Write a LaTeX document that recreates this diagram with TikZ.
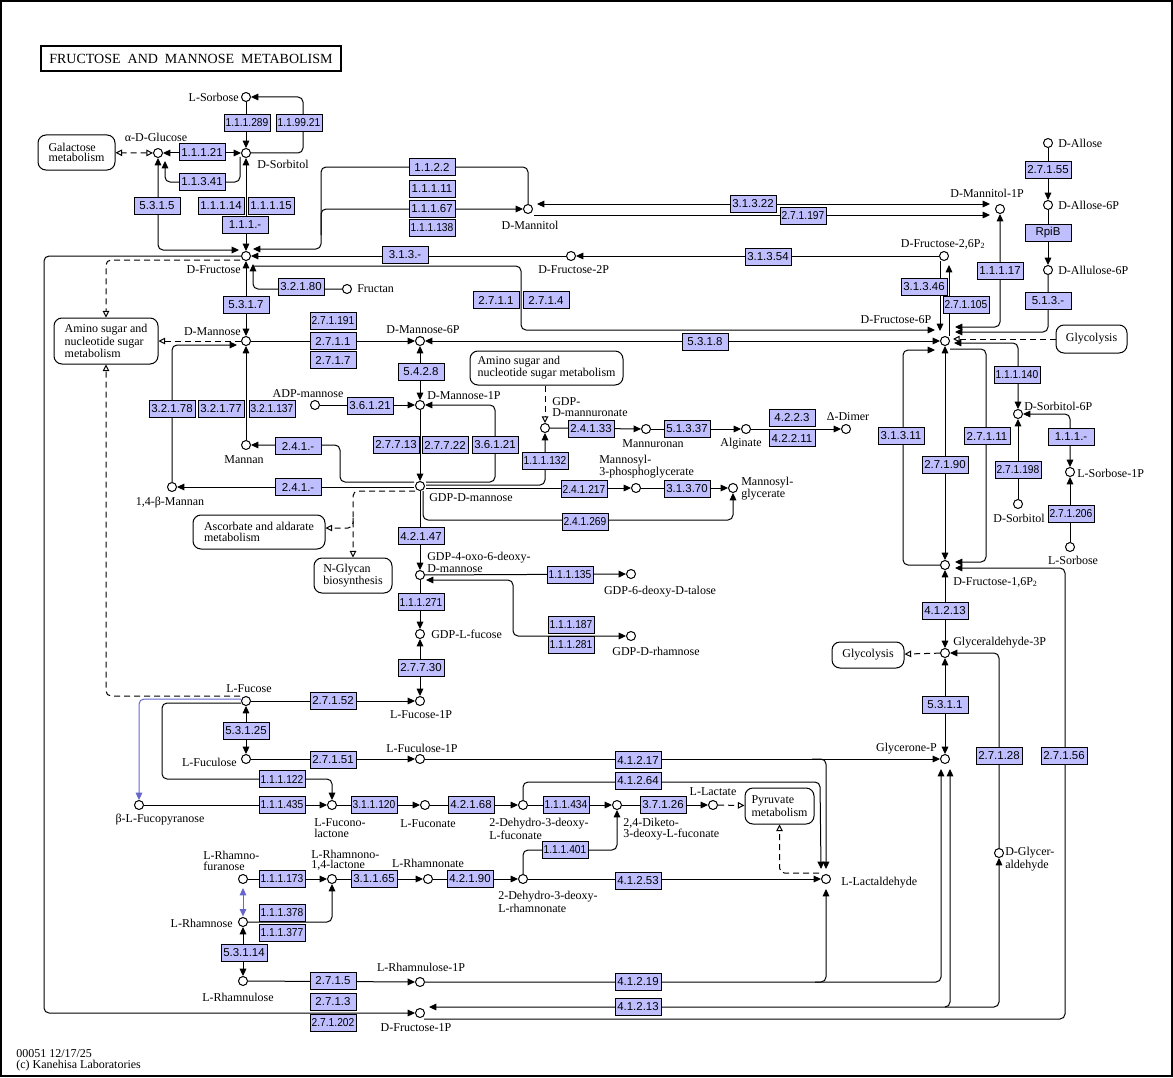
\documentclass[tikz,border=0pt]{standalone}
\usepackage{graphicx}
\usepackage{fontspec}
\setmainfont{Liberation Serif}
\newfontfamily\ecfam{Liberation Sans}
\usetikzlibrary{arrows.meta,calc}
\pgfdeclarelayer{bg}
\pgfsetlayers{bg,main}
\definecolor{ecblue}{RGB}{191,191,255}
\definecolor{kblue}{RGB}{102,102,204}
\newsavebox\ecsbox
\newcommand\ecfit[1]{\sbox\ecsbox{#1}\ifdim\wd\ecsbox>32pt\resizebox{32pt}{\height}{\usebox\ecsbox}\else\usebox\ecsbox\fi}
\newcommand\ecn[4]{\node[ec] (#1) at (#2,#3) {\ecfit{#4}};}
\newcommand\cpn[3]{\node[cpd] (#1) at (#2,#3) {};}
\newcommand\lbfont{\fontsize{9}{7.8}\selectfont}
\tikzset{
  cpd/.style={circle, draw, fill=white, inner sep=0pt, minimum size=6.75pt, line width=0.75pt},
  ec/.style={rectangle, draw, fill=ecblue, inner sep=0pt, minimum width=34.5pt, minimum height=12.75pt, line width=0.75pt, font=\ecfam\fontsize{8.6}{9}\selectfont},
  mapbox/.style={rectangle, rounded corners=6pt, draw, fill=white, line width=0.75pt, align=left, font=\lbfont, inner sep=0pt},
  lab/.style={inner sep=0pt, align=left, font=\lbfont},
  ln/.style={draw, line width=0.75pt, rounded corners=3.75pt},
  ar/.style={ln, -{Triangle[length=5.5pt,width=5pt]}},
  bi/.style={ln, {Triangle[length=5.5pt,width=5pt]}-{Triangle[length=5.5pt,width=5pt]}},
  dl/.style={ln, dash pattern=on 4.5pt off 3pt, -{Triangle[open,length=5pt,width=5pt]}},
  dlb/.style={ln, dash pattern=on 4.5pt off 3pt, {Triangle[open,length=5pt,width=5pt]}-{Triangle[open,length=5pt,width=5pt]}},
  bar/.style={ln, kblue, -{Triangle[length=5.5pt,width=5pt]}},
  bbi/.style={ln, kblue, {Triangle[length=5.5pt,width=5pt]}-{Triangle[length=5.5pt,width=5pt]}, shorten <=3pt, shorten >=0.5pt},
}
\begin{document}
\begin{tikzpicture}[x=0.75pt,y=-0.75pt]
\useasboundingbox (0,0) rectangle (1173,1077);
\draw[line width=1.5pt] (0.75,0.75) rectangle (1172.25,1076.25);
\node[draw, line width=1.5pt, minimum width=225pt, minimum height=18.75pt, inner sep=0pt, font=\fontsize{10.5}{12}\selectfont] (title) at (191,58.5) {FRUCTOSE~~AND~~MANNOSE~~METABOLISM};

% map boxes
\node[mapbox, minimum width=57.75pt, minimum height=26.25pt] (galac) at (76.5,152.5) {Galactose\\metabolism};
\node[mapbox, minimum width=78pt, minimum height=34.5pt] (amino1) at (106,341) {Amino sugar and\\nucleotide sugar\\metabolism};
\node[mapbox, minimum width=114.75pt, minimum height=25.5pt] (amino2) at (546.5,368) {Amino sugar and\\nucleotide sugar metabolism};
\node[mapbox, minimum width=99pt, minimum height=25.5pt] (ascorbate) at (259,532) {Ascorbate and aldarate\\metabolism};
\node[mapbox, minimum width=58.5pt, minimum height=26.25pt] (nglycan) at (353,575.5) {N-Glycan\\biosynthesis};
\node[mapbox, minimum width=53.25pt, minimum height=21pt] (glyc1) at (1091.5,339) {Glycolysis};
\node[mapbox, minimum width=54pt, minimum height=19.5pt] (glyc2) at (868,655) {Glycolysis};
\node[mapbox, minimum width=51.75pt, minimum height=27pt] (pyruvate) at (779.5,806) {Pyruvate\\metabolism};

% compounds
\cpn{lsorb}{246}{97}
\cpn{glc}{158}{153}
\cpn{sorb}{246}{153}
\cpn{fru}{246}{256}
\cpn{mannitol}{528}{209}
\cpn{mannitol1p}{1000}{209}
\cpn{fru2p}{571}{256}
\cpn{fru26p}{944}{256}
\cpn{allose}{1048}{143}
\cpn{allose6p}{1048}{205}
\cpn{allulose6p}{1048}{270}
\cpn{f6p}{945}{341}
\cpn{fructan}{347}{289}
\cpn{man}{246}{341}
\cpn{man6p}{420}{341}
\cpn{adpman}{315}{405}
\cpn{man1p}{420}{405}
\cpn{mannan}{246}{445}
\cpn{bmannan}{172}{487}
\cpn{gdpman}{420}{486}
\cpn{gdpmanur}{545}{428}
\cpn{mannuronan}{646}{429}
\cpn{alginate}{746}{429}
\cpn{dimer}{846}{429}
\cpn{m3pg}{636}{488}
\cpn{mglyc}{733}{488}
\cpn{gdp4oxo}{420}{575}
\cpn{gdptalose}{631}{574}
\cpn{gdprham}{631}{636}
\cpn{gdpfuc}{420}{634}
\cpn{fuc1p}{420}{701}
\cpn{fuc}{246}{701}
\cpn{fucul}{246}{759}
\cpn{fucul1p}{420}{759}
\cpn{bfucp}{139}{805}
\cpn{fuclac}{332}{805}
\cpn{fuconate}{425}{805}
\cpn{dhfuconate}{523}{805}
\cpn{diketo}{617}{805}
\cpn{llactate}{713}{805}
\cpn{lactald}{826}{879}
\cpn{rhamf}{243}{879}
\cpn{rhamlac}{332}{879}
\cpn{rhamnonate}{428}{879}
\cpn{dhrhamnonate}{523}{879}
\cpn{rham}{243}{922}
\cpn{rhamnul}{243}{981}
\cpn{rhamnul1p}{420}{982}
\cpn{f1p}{420}{1013}
\cpn{sorb6p}{1018}{414}
\cpn{lsorb1p}{1070}{472}
\cpn{sorb2}{1018}{504}
\cpn{lsorb2}{1070}{547}
\cpn{f16p}{945}{565}
\cpn{g3p}{945}{653}
\cpn{gnp}{945}{759}
\cpn{glyald}{999}{853}

% enzymes
\ecn{e1}{247}{123}{1.1.1.289}
\ecn{e2}{299}{123}{1.1.99.21}
\ecn{e3}{202}{152}{1.1.1.21}
\ecn{e4}{202}{182}{1.1.3.41}
\ecn{e5}{157}{206}{5.3.1.5}
\ecn{e6}{221}{206}{1.1.1.14}
\ecn{e7}{271}{206}{1.1.1.15}
\ecn{e8}{245}{225}{1.1.1.-}
\ecn{e9}{432}{167}{1.1.2.2}
\ecn{e10}{432}{189}{1.1.1.11}
\ecn{e11}{432}{209}{1.1.1.67}
\ecn{e12}{432}{228}{1.1.1.138}
\ecn{e13}{753}{204}{3.1.3.22}
\ecn{e14}{803}{216}{2.7.1.197}
\ecn{e15}{405}{255}{3.1.3.-}
\ecn{e16}{768}{257}{3.1.3.54}
\ecn{e17}{1048}{170}{2.7.1.55}
\ecn{e18}{1048}{233}{RpiB}
\ecn{e19}{1048}{301}{5.1.3.-}
\ecn{e20}{1000}{271}{1.1.1.17}
\ecn{e21}{924}{287}{3.1.3.46}
\ecn{e22}{966}{305}{2.7.1.105}
\ecn{e23}{301}{287}{3.2.1.80}
\ecn{e24}{246}{305}{5.3.1.7}
\ecn{e25}{333}{321}{2.7.1.191}
\ecn{e26}{333}{341}{2.7.1.1}
\ecn{e27}{333}{360}{2.7.1.7}
\ecn{e28}{496}{300}{2.7.1.1}
\ecn{e29}{546}{300}{2.7.1.4}
\ecn{e30}{705}{342}{5.3.1.8}
\ecn{e31}{421}{372}{5.4.2.8}
\ecn{e32}{370}{406}{3.6.1.21}
\ecn{e33}{172}{409}{3.2.1.78}
\ecn{e34}{221}{409}{3.2.1.77}
\ecn{e35}{272}{409}{3.2.1.137}
\ecn{e36}{396}{445}{2.7.7.13}
\ecn{e37}{445}{445}{2.7.7.22}
\ecn{e38}{495}{445}{3.6.1.21}
\ecn{e39}{298}{446}{2.4.1.-}
\ecn{e40}{298}{487}{2.4.1.-}
\ecn{e41}{545}{461}{1.1.1.132}
\ecn{e42}{591}{429}{2.4.1.33}
\ecn{e43}{687}{429}{5.1.3.37}
\ecn{e44}{792}{418}{4.2.2.3}
\ecn{e45}{792}{438}{4.2.2.11}
\ecn{e46}{584}{489}{2.4.1.217}
\ecn{e47}{687}{489}{3.1.3.70}
\ecn{e48}{585}{522}{2.4.1.269}
\ecn{e49}{421}{536}{4.2.1.47}
\ecn{e50}{570}{575}{1.1.1.135}
\ecn{e51}{571}{625}{1.1.1.187}
\ecn{e52}{571}{645}{1.1.1.281}
\ecn{e53}{421}{602}{1.1.1.271}
\ecn{e54}{421}{668}{2.7.7.30}
\ecn{e55}{333}{701}{2.7.1.52}
\ecn{e56}{246}{731}{5.3.1.25}
\ecn{e57}{333}{760}{2.7.1.51}
\ecn{e58}{282}{779}{1.1.1.122}
\ecn{e59}{282}{805}{1.1.1.435}
\ecn{e60}{374}{805}{3.1.1.120}
\ecn{e61}{471}{805}{4.2.1.68}
\ecn{e62}{566}{805}{1.1.1.434}
\ecn{e63}{663}{805}{3.7.1.26}
\ecn{e64}{638}{760}{4.1.2.17}
\ecn{e65}{638}{781}{4.1.2.64}
\ecn{e66}{565}{850}{1.1.1.401}
\ecn{e67}{638}{881}{4.1.2.53}
\ecn{e68}{282}{879}{1.1.1.173}
\ecn{e69}{374}{879}{3.1.1.65}
\ecn{e70}{470}{879}{4.2.1.90}
\ecn{e71}{282}{913}{1.1.1.378}
\ecn{e72}{282}{933}{1.1.1.377}
\ecn{e73}{244}{953}{5.3.1.14}
\ecn{e74}{333}{981}{2.7.1.5}
\ecn{e75}{333}{1002}{2.7.1.3}
\ecn{e76}{333}{1023}{2.7.1.202}
\ecn{e77}{638}{982}{4.1.2.19}
\ecn{e78}{638}{1007}{4.1.2.13}
\ecn{e79}{901}{436}{3.1.3.11}
\ecn{e80}{945}{465}{2.7.1.90}
\ecn{e81}{987}{436}{2.7.1.11}
\ecn{e82}{1017}{375}{1.1.1.140}
\ecn{e83}{1071}{437}{1.1.1.-}
\ecn{e84}{1018}{470}{2.7.1.198}
\ecn{e85}{1071}{514}{2.7.1.206}
\ecn{e86}{945}{611}{4.1.2.13}
\ecn{e87}{945}{705}{5.3.1.1}
\ecn{e88}{999}{756}{2.7.1.28}
\ecn{e89}{1064}{756}{2.7.1.56}

% compound labels
\node[lab,anchor=east] (t-lsorb) at (239,97) {L-Sorbose};
\node[lab] (t-glc) at (156,137) {α-D-Glucose};
\node[lab,anchor=west] (t-sorb) at (257,164) {D-Sorbitol};
\node[lab,anchor=east] (t-fru) at (241,270) {D-Fructose};
\node[lab] (t-mannitol) at (530,225) {D-Mannitol};
\node[lab] (t-mannitol1p) at (987,193) {D-Mannitol-1P};
\node[lab,anchor=west] (t-fru2p) at (538,270) {D-Fructose-2P};
\node[lab] (t-fru26p) at (943,244) {D-Fructose-2,6P\textsubscript{2}};
\node[lab,anchor=west] (t-allose) at (1058,143) {D-Allose};
\node[lab,anchor=west] (t-allose6p) at (1058,205) {D-Allose-6P};
\node[lab,anchor=west] (t-allulose6p) at (1058,270) {D-Allulose-6P};
\node[lab] (t-f6p) at (896,320) {D-Fructose-6P};
\node[lab,anchor=west] (t-fructan) at (357,289) {Fructan};
\node[lab,anchor=east] (t-man) at (241,332) {D-Mannose};
\node[lab] (t-man6p) at (423,330) {D-Mannose-6P};
\node[lab,anchor=west] (t-man1p) at (427,396) {D-Mannose-1P};
\node[lab] (t-adpman) at (308,394) {ADP-mannose};
\node[lab] (t-mannan) at (244,460) {Mannan};
\node[lab] (t-bmannan) at (170,503) {1,4-β-Mannan};
\node[lab,anchor=west] (t-gdpman) at (429,498) {GDP-D-mannose};
\node[lab,anchor=west] (t-gdpmanur) at (552,407) {GDP-\\D-mannuronate};
\node[lab] (t-mannuronan) at (653,444) {Mannuronan};
\node[lab] (t-alginate) at (741,444) {Alginate};
\node[lab] (t-dimer) at (848,417) {Δ-Dimer};
\node[lab,anchor=west] (t-m3pg) at (599,467) {Mannosyl-\\3-phosphoglycerate};
\node[lab,anchor=west] (t-mglyc) at (741,489) {Mannosyl-\\glycerate};
\node[lab,anchor=west] (t-gdp4oxo) at (427,562) {GDP-4-oxo-6-deoxy-\\D-mannose};
\node[lab] (t-gdptalose) at (660,592) {GDP-6-deoxy-D-talose};
\node[lab] (t-gdprham) at (656,651) {GDP-D-rhamnose};
\node[lab,anchor=west] (t-gdpfuc) at (431,634) {GDP-L-fucose};
\node[lab] (t-fuc1p) at (421,715) {L-Fucose-1P};
\node[lab] (t-fuc) at (249,689) {L-Fucose};
\node[lab,anchor=east] (t-fucul) at (237,762) {L-Fuculose};
\node[lab] (t-fucul1p) at (422,748) {L-Fuculose-1P};
\node[lab] (t-bfucp) at (160,820) {β-L-Fucopyranose};
\node[lab,anchor=west] (t-fuclac) at (314,828) {L-Fucono-\\lactone};
\node[lab] (t-fuconate) at (428,824) {L-Fuconate};
\node[lab,anchor=west] (t-dhfuconate) at (489,829) {2-Dehydro-3-deoxy-\\L-fuconate};
\node[lab,anchor=west] (t-diketo) at (623,829) {2,4-Diketo-\\3-deoxy-L-fuconate};
\node[lab] (t-llactate) at (713,792) {L-Lactate};
\node[lab,anchor=west] (t-lactald) at (841,883) {L-Lactaldehyde};
\node[lab,anchor=west] (t-rhamf) at (203,861) {L-Rhamno-\\furanose};
\node[lab,anchor=west] (t-rhamlac) at (311,860) {L-Rhamnono-\\1,4-lactone};
\node[lab] (t-rhamnonate) at (428,863) {L-Rhamnonate};
\node[lab,anchor=west] (t-dhrham) at (498,902) {2-Dehydro-3-deoxy-\\L-rhamnonate};
\node[lab,anchor=east] (t-rham) at (233,923) {L-Rhamnose};
\node[lab] (t-rhamnul) at (238,997) {L-Rhamnulose};
\node[lab] (t-rhamnul1p) at (421,967) {L-Rhamnulose-1P};
\node[lab] (t-f1p) at (416,1028) {D-Fructose-1P};
\node[lab,anchor=west] (t-sorb6p) at (1024,406) {D-Sorbitol-6P};
\node[lab,anchor=west] (t-lsorb1p) at (1077,473) {L-Sorbose-1P};
\node[lab] (t-sorb2) at (1019,518) {D-Sorbitol};
\node[lab] (t-lsorb2) at (1073,560) {L-Sorbose};
\node[lab,anchor=west] (t-f16p) at (953,582) {D-Fructose-1,6P\textsubscript{2}};
\node[lab,anchor=west] (t-g3p) at (953,643) {Glyceraldehyde-3P};
\node[lab,anchor=east] (t-gnp) at (937,749) {Glycerone-P};
\node[lab,anchor=west] (t-glyald) at (1005,859) {D-Glycer-\\aldehyde};

\node[lab,anchor=west] (foot1) at (16,1054) {00051 12/17/25};
\node[lab,anchor=west] (foot2) at (16,1066) {(c) Kanehisa Laboratories};

\begin{pgfonlayer}{bg}
% top-left
\draw[ar] (lsorb) -- (sorb);
\draw[ar] (sorb) -- (303,153) -- (303,97) -- (lsorb);
\draw[bi] (glc) -- (sorb);
\draw[ar] ($(sorb)+(-6,4)$) -- (240,182) -- (165,182) -- ($(glc)+(7,8)$);
\draw[bi] (glc) -- (158,250) -- ($(fru)+(-7,-6)$);
\draw[bi] (sorb) -- (fru);
\draw[dlb] (glc) -- (galac);
\draw[ar] (mannitol) |- (321,167) -- (321,249) -- ($(fru)+(7,-7)$);
\draw[ar] (321,235) -- (321,209) -- (mannitol);
\draw[bi] ($(mannitol)+(9,-5)$) -- ($(mannitol1p)+(-10,-5)$);
\draw[ar] ($(mannitol)+(6,6)$) -- ($(mannitol1p)+(-10,6)$);
\draw[ar] (fru2p) -- (fru);
\draw[ar] (fru26p) -- (fru2p);
% top-right
\draw[ar] (allose) -- (allose6p);
\draw[ar] (allose6p) -- (allulose6p);
\draw[bi] (mannitol1p) |- ($(f6p)+(10,-14)$);
\draw[ar] (allulose6p) |- ($(f6p)+(10,-9)$);
\draw[dl] (glyc1) -- ($(f6p)+(8,-2)$);
\draw[bi] ($(f6p)+(9,2)$) -| (sorb6p);
\draw[ar] ($(fru26p)+(-4,5)$) -- ($(f6p)+(-5,-10)$);
\draw[ar] ($(f6p)+(4,-5)$) -- ($(fru26p)+(5,9)$);
\draw[ar] ($(fru)+(7,10)$) -- (521,266) -- (521,330) -- ($(f6p)+(-10,-11)$);
\draw[ar] (fructan) -- (253,289) -- ($(fru)+(7,8)$);
% mannose region
\draw[bi] (fru) -- (man);
\draw[dl] ($(fru)+(-6,4)$) -- (106,260) -- (amino1.north);
\draw[dl] (man) -- (amino1);
\draw[dl] ($(fuc)+(-6,-5)$) -| (amino1.south);
\draw[ar] (man) -- (man6p);
\draw[bi] (man6p) -- (f6p);
\draw[bi] (man6p) -- (man1p);
\draw[ar] (adpman) -- (man1p);
\draw[ar] (man1p) -- (gdpman);
\draw[ar] ($(gdpman)+(6,-4)$) -- (495,482) -- (495,405) -- (man1p);
\draw[ar] (bmannan) |- ($(man)+(-9,4)$);
\draw[ar] (mannan) -- (man);
\draw[ar] ($(gdpman)+(-6,-4)$) -- (340,482) -- (340,445) -- (mannan);
\draw[ar] ($(gdpman)+(-6,1)$) -- (bmannan);
\draw[dl] ($(gdpman)+(-5,5)$) -- (353,491) -- (nglycan.north);
\draw[dl] (353,518) -- (353,528) -- ($(ascorbate.east)+(0,-4)$);
\draw[ar] ($(gdpman)+(6,-1)$) -- (545,485) -- (gdpmanur);
\draw[dl] (gdpmanur |- amino2.south) -- (gdpmanur);
\draw[ar] (gdpmanur) -- (mannuronan);
\draw[ar] (mannuronan) -- (alginate);
\draw[ar] (alginate) -- (dimer);
\draw[ar] ($(gdpman)+(6,2)$) -- (m3pg);
\draw[ar] (m3pg) -- (mglyc);
\draw[ar] ($(gdpman)+(3,5)$) -- (423,520) -| (mglyc);
\draw[ar] (gdpman) -- (gdp4oxo);
\draw[ar] (gdp4oxo) -- (gdptalose);
\draw[bi] ($(gdp4oxo)+(6,5)$) -- (513,580) |- (gdprham);
\draw[ar] (gdp4oxo) -- (gdpfuc);
\draw[bi] (fuc1p) -- (gdpfuc);
% fucose region
\draw[ar] (fuc) -- (fuc1p);
\draw[bi] (fuc) -- (fucul);
\draw[ar] (fucul) -- (fucul1p);
\draw[ar] ($(fuc)+(-5,2)$) -- (162,703) -- (162,779) -| (fuclac);
\draw[bar] ($(fuc)+(-5,-2)$) -- (139,699) -- (bfucp);
\draw[ar] (bfucp) -- (fuclac);
\draw[ar] (fuclac) -- (fuconate);
\draw[ar] (fuconate) -- (dhfuconate);
\draw[ar] (dhfuconate) -- (diketo);
\draw[ar] (diketo) -- (llactate);
\draw[dl] (llactate) -- (pyruvate);
\draw[ar] (dhfuconate) |- (820,782) -- ($(lactald)+(-5,-10)$);
\draw[ar] (fucul1p) -- (gnp);
\draw[ar] (812,759) -- (826,759) -- ($(lactald)+(0,-10)$);
\draw[dl] ($(lactald)+(-7,-6)$) -| (pyruvate.south);
% rhamnose region
\draw[ar] (rhamf) -- (rhamlac);
\draw[ar] (rham) -- (332,922) -- (rhamlac);
\draw[bbi] (rhamf) -- (rham);
\draw[ar] (rhamlac) -- (rhamnonate);
\draw[ar] (rhamnonate) -- (dhrhamnonate);
\draw[ar] (dhrhamnonate) |- (617,850) -- (diketo);
\draw[ar] (dhrhamnonate) -- (lactald);
\draw[bi] (rham) -- (rhamnul);
\draw[ar] (rhamnul) -- (rhamnul1p);
\draw[ar] (rhamnul1p) -- (941,982) -- ($(gnp)+(-4,10)$);
\draw[ar] (815,982) -- (826,982) -- ($(lactald)+(0,10)$);
\draw[bi] ($(f1p)+(9,-6)$) -- (950,1007) -- ($(gnp)+(5,10)$);
\draw[ar] (945,1007) -- (999,1007) -- (glyald);
\draw[ar] ($(f1p)+(4,6)$) -- (1065,1019) -- (1065,568) -- ($(f16p)+(10,3)$);
\draw[ar] (fru) -- (44,256) -- (44,1013) -- (f1p);
% glycolysis column
\draw[bi] (f6p) -- (f16p);
\draw[ar] (f16p) -- (903,565) -- (903,350) -- ($(f6p)+(-10,9)$);
\draw[ar] ($(f6p)+(5,8)$) -- (986,349) -- (986,562) -- ($(f16p)+(10,-3)$);
\draw[bi] (sorb6p) -| (lsorb1p);
\draw[ar] (sorb2) -- (sorb6p);
\draw[ar] (lsorb2) -- (lsorb1p);
\draw[bi] (f16p) -- (g3p);
\draw[dl] (g3p) -- (glyc2);
\draw[bi] (g3p) -- (gnp);
\draw[ar] (glyald) |- (g3p);
\end{pgfonlayer}
\end{tikzpicture}
\end{document}
